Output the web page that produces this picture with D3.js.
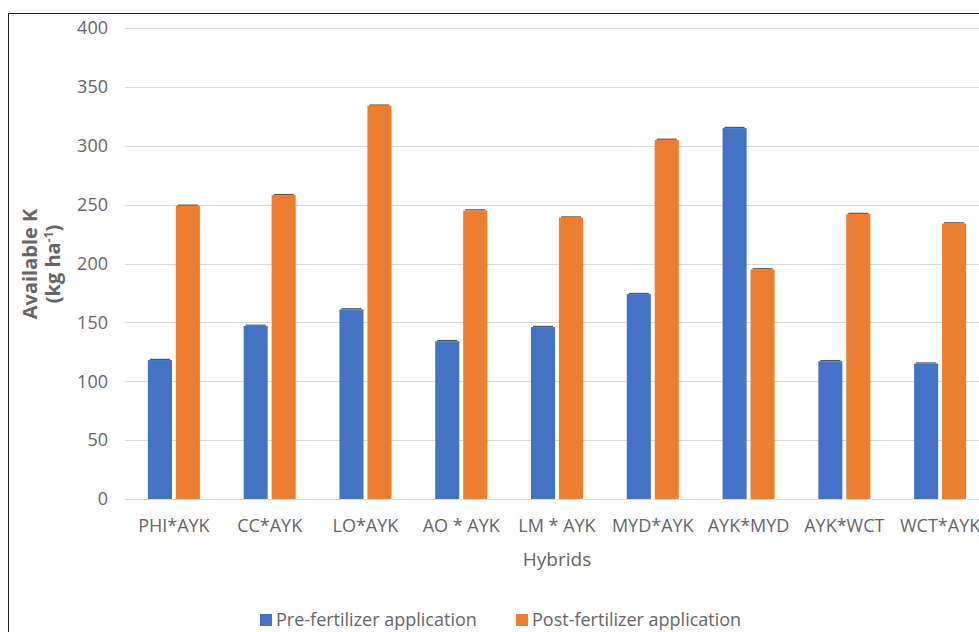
<!DOCTYPE html>
<html>
<head>
<meta charset="utf-8">
<script src="https://cdn.jsdelivr.net/npm/d3@7"></script>
<style>
  body { margin: 0; background: #fff; }
  svg { display: block; font-family: "Open Sans", sans-serif; }
</style>
</head>
<body>
<script>
const hybrids = ["PHI*AYK", "CC*AYK", "LO*AYK", "AO * AYK", "LM * AYK", "MYD*AYK", "AYK*MYD", "AYK*WCT", "WCT*AYK"];
const preValues = [118, 147, 161, 134, 146, 174, 315, 117, 115];
const postValues = [249, 258, 334, 245, 239, 305, 195, 242, 234];
const preErrors = [1, 1, 1, 1, 1, 1, 1, 1, 1];
const postErrors = [1, 1, 1, 1, 1, 1, 1, 1, 1];
const seriesNames = ["Pre-fertilizer application", "Post-fertilizer application"];
const yTicks = [0, 50, 100, 150, 200, 250, 300, 350, 400];

function init() {
    var w = 979;
    var h = 632;
    var colors = ["#4472c4", "#ed7d31"];
    var textColor = "#666";

    var svg = d3.select("body")
        .append("svg")
        .attr("width", w)
        .attr("height", h);

    // outer chart frame (cropped on right and bottom)
    svg.append("path")
        .attr("d", "M8.5," + (h + 2) + "V13.5H" + (w + 2))
        .attr("fill", "none")
        .attr("stroke", "#222")
        .attr("stroke-width", 1);

    var x = d3.scaleBand()
        .domain(hybrids)
        .range([126, 988])
        .paddingInner(0)
        .paddingOuter(0);

    var y = d3.scaleLinear()
        .domain([0, 400])
        .range([499, 28]);

    var x1 = d3.scaleBand()
        .domain([0, 1])
        .range([x.bandwidth() / 2 - 26, x.bandwidth() / 2 + 26])
        .paddingInner(0.14);

    // gridlines
    svg.append("g")
        .selectAll("line")
        .data(yTicks)
        .enter()
        .append("line")
        .attr("x1", 125)
        .attr("x2", w)
        .attr("y1", function(d) { return Math.round(y(d)) + 0.5; })
        .attr("y2", function(d) { return Math.round(y(d)) + 0.5; })
        .attr("stroke", "#d9d9d9")
        .attr("stroke-width", 1);

    // y tick labels
    svg.append("g")
        .selectAll("text")
        .data(yTicks)
        .enter()
        .append("text")
        .attr("x", 108)
        .attr("y", function(d) { return y(d); })
        .attr("dy", "0.35em")
        .attr("text-anchor", "end")
        .attr("fill", textColor)
        .style("font-size", "18px")
        .text(function(d) { return d; });

    var series = [preValues, postValues];
    var errors = [preErrors, postErrors];

    series.forEach(function(vals, s) {
        var g = svg.append("g");
        g.selectAll("rect")
            .data(vals)
            .enter()
            .append("rect")
            .attr("x", function(d, i) { return x(hybrids[i]) + x1(s); })
            .attr("y", function(d) { return y(d); })
            .attr("width", x1.bandwidth())
            .attr("height", function(d) { return y(0) - y(d); })
            .attr("fill", colors[s]);

        // tiny error bars
        g.selectAll("line")
            .data(vals)
            .enter()
            .append("line")
            .attr("x1", function(d, i) { return x(hybrids[i]) + x1(s) + 2; })
            .attr("x2", function(d, i) { return x(hybrids[i]) + x1(s) + x1.bandwidth() - 2; })
            .attr("y1", function(d, i) { return y(d + errors[s][i]) + 0.5; })
            .attr("y2", function(d, i) { return y(d + errors[s][i]) + 0.5; })
            .attr("stroke", "#555")
            .attr("stroke-width", 1.2);
    });

    // category labels
    svg.append("g")
        .selectAll("text")
        .data(hybrids)
        .enter()
        .append("text")
        .attr("x", function(d) { return x(d) + x.bandwidth() / 2; })
        .attr("y", 532)
        .attr("text-anchor", "middle")
        .attr("fill", textColor)
        .style("font-size", "18px")
        .text(function(d) { return d; });

    // x axis title
    svg.append("text")
        .attr("x", 557)
        .attr("y", 566)
        .attr("text-anchor", "middle")
        .attr("fill", textColor)
        .style("font-size", "19px")
        .text("Hybrids");

    // y axis title
    var yt = svg.append("text")
        .attr("transform", "translate(37,264) rotate(-90)")
        .attr("text-anchor", "middle")
        .attr("fill", textColor)
        .style("font-size", "20px")
        .style("font-weight", "bold");
    yt.append("tspan")
        .attr("x", 0)
        .attr("y", 0)
        .text("Available K");
    var t2 = yt.append("tspan")
        .attr("x", 0)
        .attr("y", 23);
    t2.append("tspan").text("(kg ha");
    t2.append("tspan").attr("dy", -7).style("font-size", "12px").text("-1");
    t2.append("tspan").attr("dy", 7).text(")");

    // legend
    var legendX = [260, 516];
    var lg = svg.append("g")
        .selectAll("g")
        .data(seriesNames)
        .enter()
        .append("g")
        .attr("transform", function(d, i) { return "translate(" + legendX[i] + ",620)"; });
    lg.append("rect")
        .attr("x", 0)
        .attr("y", -6)
        .attr("width", 12)
        .attr("height", 12)
        .attr("fill", function(d, i) { return colors[i]; });
    lg.append("text")
        .attr("x", 16)
        .attr("y", 0)
        .attr("dy", "0.35em")
        .attr("fill", textColor)
        .style("font-size", "18px")
        .text(function(d) { return d; });
}
window.onload = init;
</script>
</body>
</html>
